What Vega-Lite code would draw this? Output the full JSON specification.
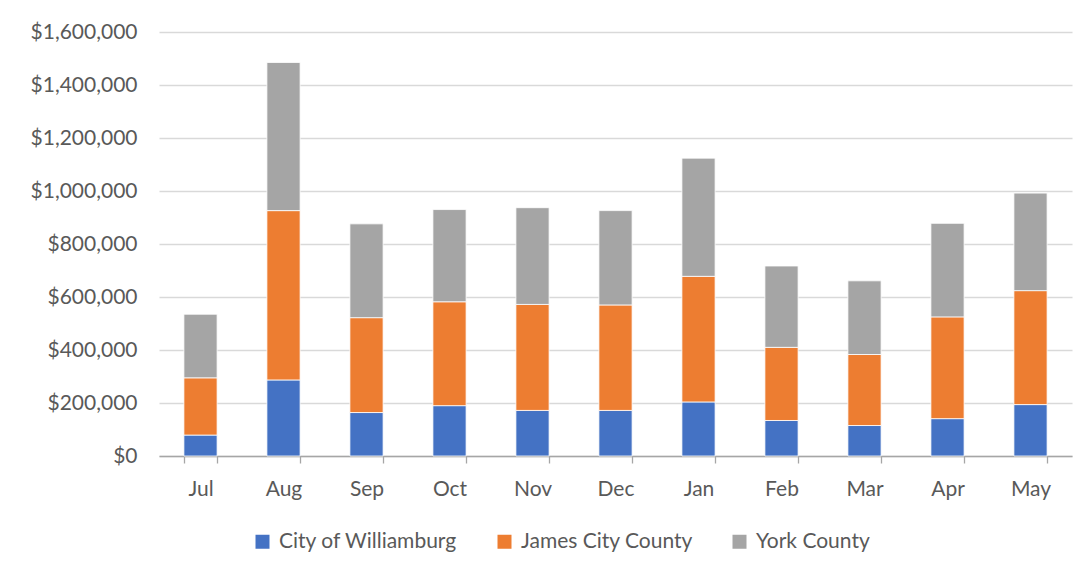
{
  "$schema": "https://vega.github.io/schema/vega-lite/v6.json",
  "autosize": "none",
  "width": 913,
  "height": 424,
  "padding": {"left": 159, "top": 32, "right": 7, "bottom": 121},
  "background": "white",
  "config": {
    "font": "Lato",
    "view": {"stroke": null}
  },
  "data": {
    "values": [
      {"month": "Jul", "locality": "City of Williamburg", "amount": 79000},
      {"month": "Jul", "locality": "James City County", "amount": 216000},
      {"month": "Jul", "locality": "York County", "amount": 240000},
      {"month": "Aug", "locality": "City of Williamburg", "amount": 287000},
      {"month": "Aug", "locality": "James City County", "amount": 639000},
      {"month": "Aug", "locality": "York County", "amount": 559000},
      {"month": "Sep", "locality": "City of Williamburg", "amount": 164000},
      {"month": "Sep", "locality": "James City County", "amount": 358000},
      {"month": "Sep", "locality": "York County", "amount": 354000},
      {"month": "Oct", "locality": "City of Williamburg", "amount": 190000},
      {"month": "Oct", "locality": "James City County", "amount": 392000},
      {"month": "Oct", "locality": "York County", "amount": 348000},
      {"month": "Nov", "locality": "City of Williamburg", "amount": 172000},
      {"month": "Nov", "locality": "James City County", "amount": 400000},
      {"month": "Nov", "locality": "York County", "amount": 365000},
      {"month": "Dec", "locality": "City of Williamburg", "amount": 172000},
      {"month": "Dec", "locality": "James City County", "amount": 398000},
      {"month": "Dec", "locality": "York County", "amount": 356000},
      {"month": "Jan", "locality": "City of Williamburg", "amount": 204000},
      {"month": "Jan", "locality": "James City County", "amount": 474000},
      {"month": "Jan", "locality": "York County", "amount": 446000},
      {"month": "Feb", "locality": "City of Williamburg", "amount": 134000},
      {"month": "Feb", "locality": "James City County", "amount": 276000},
      {"month": "Feb", "locality": "York County", "amount": 307000},
      {"month": "Mar", "locality": "City of Williamburg", "amount": 115000},
      {"month": "Mar", "locality": "James City County", "amount": 268000},
      {"month": "Mar", "locality": "York County", "amount": 278000},
      {"month": "Apr", "locality": "City of Williamburg", "amount": 141000},
      {"month": "Apr", "locality": "James City County", "amount": 384000},
      {"month": "Apr", "locality": "York County", "amount": 353000},
      {"month": "May", "locality": "City of Williamburg", "amount": 194000},
      {"month": "May", "locality": "James City County", "amount": 430000},
      {"month": "May", "locality": "York County", "amount": 368000}
    ]
  },
  "mark": {"type": "bar", "stroke": "white", "strokeWidth": 0.8},
  "encoding": {
    "x": {
      "field": "month",
      "type": "nominal",
      "sort": ["Jul", "Aug", "Sep", "Oct", "Nov", "Dec", "Jan", "Feb", "Mar", "Apr", "May"],
      "scale": {"paddingInner": 0.6, "paddingOuter": 0.3},
      "axis": {
        "title": null,
        "labelAngle": 0,
        "labelFont": "Lato",
        "labelFontSize": 21,
        "labelColor": "#595959",
        "labelPadding": 15,
        "domainColor": "#a6a6a6",
        "domainWidth": 1.3,
        "tickColor": "#a6a6a6",
        "tickWidth": 1.3,
        "tickSize": 7,
        "tickBand": "extent"
      }
    },
    "y": {
      "field": "amount",
      "type": "quantitative",
      "stack": "zero",
      "scale": {"domain": [0, 1600000]},
      "axis": {
        "title": null,
        "values": [0, 200000, 400000, 600000, 800000, 1000000, 1200000, 1400000, 1600000],
        "format": "$,.0f",
        "labelFont": "Lato",
        "labelFontSize": 21,
        "labelColor": "#595959",
        "labelPadding": 22,
        "domain": false,
        "ticks": false,
        "gridColor": "#d9d9d9",
        "gridWidth": 1.3
      }
    },
    "order": {"field": "locality", "type": "nominal", "sort": "ascending"},
    "color": {
      "field": "locality",
      "type": "nominal",
      "scale": {
        "domain": ["City of Williamburg", "James City County", "York County"],
        "range": ["#4472C4", "#ED7D31", "#A5A5A5"]
      },
      "legend": {
        "title": null,
        "orient": "none",
        "legendX": 93,
        "legendY": 499,
        "direction": "horizontal",
        "symbolType": "square",
        "symbolSize": 196,
        "symbolStrokeWidth": 0,
        "labelFont": "Lato",
        "labelFontSize": 21,
        "labelColor": "#595959",
        "labelLimit": 400,
        "labelOffset": 6,
        "columnPadding": 36
      }
    }
  }
}
